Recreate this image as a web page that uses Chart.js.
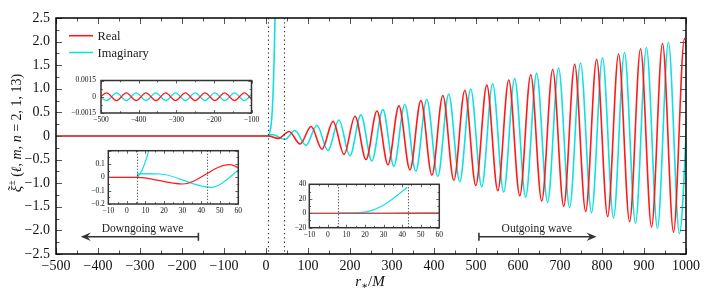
<!DOCTYPE html>
<html><head><meta charset="utf-8">
<script src="https://cdn.jsdelivr.net/npm/chart.js@4.4.0/dist/chart.umd.min.js"></script>
<style>
html,body{margin:0;padding:0;background:#fff;}
#wrap{position:relative;width:709px;height:296px;overflow:hidden;}
#wrap canvas{position:absolute;left:0;top:0;}
</style></head><body>
<div id="wrap">
<canvas id="main" width="709" height="296"></canvas>
<canvas id="in1" width="709" height="296"></canvas>
<canvas id="in2" width="709" height="296"></canvas>
<canvas id="in3" width="709" height="296"></canvas>
</div>
<script>
// ---------------- data ----------------
const realR = [-511.2,-485.0,-458.9,-432.7,-406.6,-380.4,-354.3,-328.1,-302.0,-275.8,-249.7,-223.5,-197.4,-171.2,-145.1,-118.9,-92.8,-66.6,-40.5,-14.3,
  5.6,30.0,
  55.0,81.2,107.3,133.5,159.6,185.8,211.9,238.1,264.2,290.4,316.5,342.7,368.8,395.0,421.1,447.3,473.4,499.6,525.7,551.9,
  578.0,604.2,630.3,656.5,682.6,708.8,734.9,761.1,787.2,813.4,839.5,865.7,891.8,918.0,944.1,970.3,996.4,1022.6];
const realV = [-0.00035,0.00035,-0.00035,0.00035,-0.00035,0.00035,-0.00035,0.00035,-0.00035,0.00035,-0.00035,0.00035,-0.00035,0.00035,-0.00035,0.00035,-0.00035,0.00035,-0.00035,0.00035,
  0,-0.050,
  0.095,-0.170,0.200,-0.280,0.310,-0.390,0.419,-0.499,0.529,-0.609,0.639,-0.719,0.749,-0.829,0.859,-0.939,0.968,-1.048,1.078,-1.158,
  1.188,-1.268,1.298,-1.378,1.408,-1.488,1.517,-1.597,1.627,-1.707,1.737,-1.817,1.847,-1.927,1.957,-2.037,2.066,-2.147];

const imagR = [-511.2,-485.0,-458.9,-432.7,-406.6,-380.4,-354.3,-328.1,-302.0,-275.8,-249.7,-223.5,-197.4,-171.2,-145.1,-118.9,-92.8,-66.6,-40.5,-14.3,
  5.6,5.7,18.0,45.0,
  69.0,95.2,121.3,147.5,173.6,199.8,225.9,252.1,278.2,304.4,330.5,356.7,382.8,409.0,435.1,461.3,487.4,513.6,539.7,565.9,
  592.0,618.2,644.3,670.5,696.6,722.8,748.9,775.1,801.2,827.4,853.5,879.7,905.8,932.0,958.1,984.3,1010.4];
const imagV = [0.00035,-0.00035,0.00035,-0.00035,0.00035,-0.00035,0.00035,-0.00035,0.00035,-0.00035,0.00035,-0.00035,0.00035,-0.00035,0.00035,-0.00035,0.00035,-0.00035,0.00035,-0.00035,
  0,0.028,0.025,-0.075,
  0.115,-0.199,0.229,-0.309,0.339,-0.419,0.448,-0.528,0.558,-0.638,0.668,-0.748,0.778,-0.858,0.888,-0.968,0.997,-1.077,1.107,-1.187,
  1.217,-1.297,1.327,-1.407,1.437,-1.517,1.546,-1.626,1.656,-1.736,1.766,-1.846,1.876,-1.956,1.986,-2.066,2.095];

// imaginary part of the growing interior piece (between the two dotted lines)
const blowR = [5.6, 8, 10, 12, 15, 18, 21, 25, 28, 31.6, 35, 38.8, 42.8];
const blowV = [0, 0.05, 0.12, 0.22, 0.55, 1.2, 2.3, 5.0, 8.5, 13.8, 20.0, 27.6, 35.9];

const dottedR = [5.6, 43];

// tick values and labels
const xTicks = [-500,-400,-300,-200,-100,0,100,200,300,400,500,600,700,800,900,1000];
const xLabels = ['−500','−400','−300','−200','−100','0','100','200','300','400','500','600','700','800','900','1000'];
const yTicks = [-2.5,-2.0,-1.5,-1.0,-0.5,0,0.5,1.0,1.5,2.0,2.5];
const yLabels = ['−2.5','−2.0','−1.5','−1.0','−0.5','0','0.5','1.0','1.5','2.0','2.5'];

const in1XTicks = [-500,-400,-300,-200,-100];
const in1XLabels = ['−500','−400','−300','−200','−100'];
const in1YTicks = [-0.0015,0,0.0015];
const in1YLabels = ['−0.0015','0','0.0015'];

const in2XTicks = [-10,0,10,20,30,40,50,60];
const in2XLabels = ['−10','0','10','20','30','40','50','60'];
const in2YTicks = [-0.2,-0.1,0,0.1,0.2];
const in2YLabels = ['−0.2','−0.1','0','0.1',''];

const in3XTicks = [-10,0,10,20,30,40,50,60];
const in3XLabels = ['−10','0','10','20','30','40','50','60'];
const in3YTicks = [-20,0,20,40];
const in3YLabels = ['−20','0','20','40'];

const seriesNames = ['Real','Imaginary'];
const waveTexts = ['Downgoing wave','Outgoing wave'];

// ---------------- styling ----------------
const RED = '#ff1a1a';
const CYAN = '#12e0e0';
const SERIF = '"Liberation Serif","DejaVu Serif",serif';
const W = 709, H = 296;

const mids = a => a.slice(1).map((v,i)=>(v+a[i])/2);
const pts = (R,V) => R.map((r,i)=>({x:r,y:V[i]}));

function drawRich(ctx, segs, cx, baseY){
  let total = 0;
  segs.forEach(s=>{ if(!s.over){ ctx.font = s.f; s.w = ctx.measureText(s.t).width; total += s.w; } });
  let x = cx - total/2, prevX = x, prevW = 0;
  ctx.textAlign = 'left'; ctx.textBaseline = 'alphabetic';
  segs.forEach(s=>{
    ctx.font = s.f;
    if (s.over){
      ctx.textAlign='center';
      ctx.fillText(s.t, prevX + prevW/2 + (s.sx||0), baseY + (s.dy||0));
      ctx.textAlign='left';
    } else {
      ctx.fillText(s.t, x, baseY + (s.dy||0));
      prevX = x; prevW = s.w; x += s.w;
    }
  });
}

function makeDecor(cfg){
  return {
    id: 'decor',
    beforeDraw(chart){
      const {ctx, chartArea:a} = chart;
      ctx.save(); ctx.fillStyle = '#fff';
      if (cfg.fillAll) ctx.fillRect(0,0,chart.width,chart.height);
      else ctx.fillRect(a.left,a.top,a.right-a.left,a.bottom-a.top);
      ctx.restore();
    },
    afterDatasetsDraw(chart){
      const {ctx, chartArea:a} = chart;
      const x = chart.scales.x, y = chart.scales.y;
      ctx.save();
      if (cfg.dots){
        ctx.strokeStyle = '#333'; ctx.lineWidth = 1.1; ctx.setLineDash(cfg.dotDash || [1.2,2.6]);
        cfg.dots.forEach(v=>{
          const px = Math.round(x.getPixelForValue(v)) + 0.5;
          ctx.beginPath(); ctx.moveTo(px, a.top); ctx.lineTo(px, a.bottom); ctx.stroke();
        });
        ctx.setLineDash([]);
      }
      ctx.strokeStyle = cfg.tickColor; ctx.lineWidth = 1;
      const tickX = (vals,len)=>vals.forEach(v=>{
        const px = Math.round(x.getPixelForValue(v)) + 0.5;
        ctx.beginPath(); ctx.moveTo(px,a.bottom); ctx.lineTo(px,a.bottom-len);
        ctx.moveTo(px,a.top); ctx.lineTo(px,a.top+len); ctx.stroke();
      });
      const tickY = (vals,len)=>vals.forEach(v=>{
        const py = Math.round(y.getPixelForValue(v)) + 0.5;
        ctx.beginPath(); ctx.moveTo(a.left,py); ctx.lineTo(a.left+len,py);
        ctx.moveTo(a.right,py); ctx.lineTo(a.right-len,py); ctx.stroke();
      });
      tickX(cfg.xTicks, cfg.major); tickX(mids(cfg.xTicks), cfg.minor);
      tickY(cfg.yTicks, cfg.major); tickY(mids(cfg.yTicks), cfg.minor);
      ctx.strokeStyle = cfg.frameColor; ctx.lineWidth = cfg.frameWidth;
      ctx.strokeRect(a.left, a.top, a.right-a.left, a.bottom-a.top);
      ctx.fillStyle = '#111'; ctx.font = cfg.font;
      ctx.textAlign = 'center'; ctx.textBaseline = 'middle';
      cfg.xTicks.forEach((v,i)=>ctx.fillText(cfg.xLabels[i], x.getPixelForValue(v), a.bottom + cfg.xDy));
      ctx.textAlign = 'right';
      cfg.yTicks.forEach((v,i)=>{ if (cfg.yLabels[i]) ctx.fillText(cfg.yLabels[i], a.left - cfg.yDx, y.getPixelForValue(v)); });
      if (cfg.extra) cfg.extra(chart, ctx, a, x, y);
      ctx.restore();
    }
  };
}

function makeChart(id, box, xr, yr, lw, cfg){
  // Chart.js paints the first dataset on top, so Real is listed first
  return new Chart(document.getElementById(id), {
    type: 'line',
    data: { datasets: [
      { label: seriesNames[0], data: pts(realR, realV), borderColor: RED, borderWidth: lw },
      { label: seriesNames[1]+' (interior)', data: pts(blowR, blowV), borderColor: CYAN, borderWidth: lw },
      { label: seriesNames[1], data: pts(imagR, imagV), borderColor: CYAN, borderWidth: lw }
    ]},
    options: {
      responsive: false, animation: false, devicePixelRatio: 1, events: [],
      layout: { padding: { left: box.l, top: box.t, right: W - box.r, bottom: H - box.b } },
      scales: {
        x: { type: 'linear', display: false, min: xr[0], max: xr[1] },
        y: { type: 'linear', display: false, min: yr[0], max: yr[1] }
      },
      elements: { point: { radius: 0 }, line: { cubicInterpolationMode: 'monotone', fill: false } },
      plugins: { legend: { display: false }, tooltip: { enabled: false } }
    },
    plugins: [makeDecor(cfg)]
  });
}

function arrowHead(ctx, tipX, yy, dir){
  ctx.beginPath();
  ctx.moveTo(tipX, yy);
  ctx.lineTo(tipX - dir*10, yy - 4.2);
  ctx.lineTo(tipX - dir*6.5, yy);
  ctx.lineTo(tipX - dir*10, yy + 4.2);
  ctx.closePath(); ctx.fill();
}

function mainExtra(chart, ctx, a, x, y){
  ctx.lineWidth = 1.6;
  ctx.strokeStyle = RED; ctx.beginPath(); ctx.moveTo(69, 35.7); ctx.lineTo(93, 35.7); ctx.stroke();
  ctx.strokeStyle = CYAN; ctx.beginPath(); ctx.moveTo(69, 52.5); ctx.lineTo(93, 52.5); ctx.stroke();
  ctx.fillStyle = '#222'; ctx.font = '12.5px ' + SERIF; ctx.textAlign = 'left'; ctx.textBaseline = 'middle';
  ctx.fillText(seriesNames[0], 97.5, 36.5);
  ctx.fillText(seriesNames[1], 97.5, 53.3);

  ctx.strokeStyle = '#333'; ctx.fillStyle = '#333'; ctx.lineWidth = 1.6;
  const ay = y.getPixelForValue(-2.135);
  const drawArrow = (fromR, toR) => {
    const x0 = x.getPixelForValue(fromR), x1 = x.getPixelForValue(toR);
    const dir = Math.sign(x1 - x0);
    ctx.beginPath(); ctx.moveTo(x0, ay); ctx.lineTo(x1 - dir*6, ay); ctx.stroke();
    ctx.beginPath(); ctx.moveTo(x0, ay - 4); ctx.lineTo(x0, ay + 4); ctx.stroke();
    arrowHead(ctx, x1, ay, dir);
  };
  drawArrow(-161, -441);
  drawArrow(507, 787);
  ctx.fillStyle = '#222'; ctx.font = '11.5px ' + SERIF; ctx.textAlign = 'center'; ctx.textBaseline = 'middle';
  ctx.fillText(waveTexts[0], x.getPixelForValue(-294), y.getPixelForValue(-1.96));
  ctx.fillText(waveTexts[1], x.getPixelForValue(645), y.getPixelForValue(-1.975));

  ctx.fillStyle = '#111';
  drawRich(ctx, [
    {t:'r', f:'italic 15px '+SERIF},
    {t:'∗', f:'10px '+SERIF, dy:3},
    {t:'/', f:'15px '+SERIF},
    {t:'M', f:'italic 15px '+SERIF}
  ], 370, 286);
  ctx.save();
  ctx.translate(21, 133);
  ctx.rotate(-Math.PI/2);
  drawRich(ctx, [
    {t:'ξ', f:'italic 15px '+SERIF},
    {t:'˜', f:'14px '+SERIF, dy:-3, over:true, sx:1},
    {t:'±', f:'10px '+SERIF, dy:-6},
    {t:' (', f:'14px '+SERIF},
    {t:'ℓ', f:'italic 14px '+SERIF},
    {t:', ', f:'14px '+SERIF},
    {t:'m', f:'italic 14px '+SERIF},
    {t:', ', f:'14px '+SERIF},
    {t:'n', f:'italic 14px '+SERIF},
    {t:' = 2, 1, 13)', f:'14px '+SERIF}
  ], 0, 0);
  ctx.restore();
}

makeChart('main', {l:56, r:686, t:18, b:254}, [-500,1000], [-2.5,2.5], 1.6, {
  fillAll: true, dots: dottedR, dotDash: [1.3,3],
  xTicks, xLabels, yTicks, yLabels,
  major: 6, minor: 3.5, tickColor: '#555', frameColor: '#000', frameWidth: 1.5,
  font: '14px ' + SERIF, xDy: 12, yDx: 6, extra: mainExtra
});

makeChart('in1', {l:101, r:251.5, t:80.5, b:113}, [-500,-100], [-0.0015,0.0015], 1.2, {
  xTicks: in1XTicks, xLabels: in1XLabels, yTicks: in1YTicks, yLabels: in1YLabels,
  major: 3, minor: 1.8, tickColor: '#666', frameColor: '#333', frameWidth: 1.5,
  font: '7.5px ' + SERIF, xDy: 7.5, yDx: 5
});

makeChart('in2', {l:108.3, r:238.3, t:150.7, b:204}, [-10,60], [-0.2,0.2], 1.2, {
  dots: dottedR, dotDash: [1,2],
  xTicks: in2XTicks, xLabels: in2XLabels, yTicks: in2YTicks, yLabels: in2YLabels,
  major: 3, minor: 1.8, tickColor: '#666', frameColor: '#333', frameWidth: 1.5,
  font: '7.5px ' + SERIF, xDy: 7, yDx: 3.5
});

makeChart('in3', {l:309.3, r:439.3, t:184.3, b:227.7}, [-10,60], [-20,40], 1.2, {
  dots: dottedR, dotDash: [1,2],
  xTicks: in3XTicks, xLabels: in3XLabels, yTicks: in3YTicks, yLabels: in3YLabels,
  major: 3, minor: 1.8, tickColor: '#666', frameColor: '#333', frameWidth: 1.5,
  font: '7.5px ' + SERIF, xDy: 7.3, yDx: 3
});
</script>
</body></html>
